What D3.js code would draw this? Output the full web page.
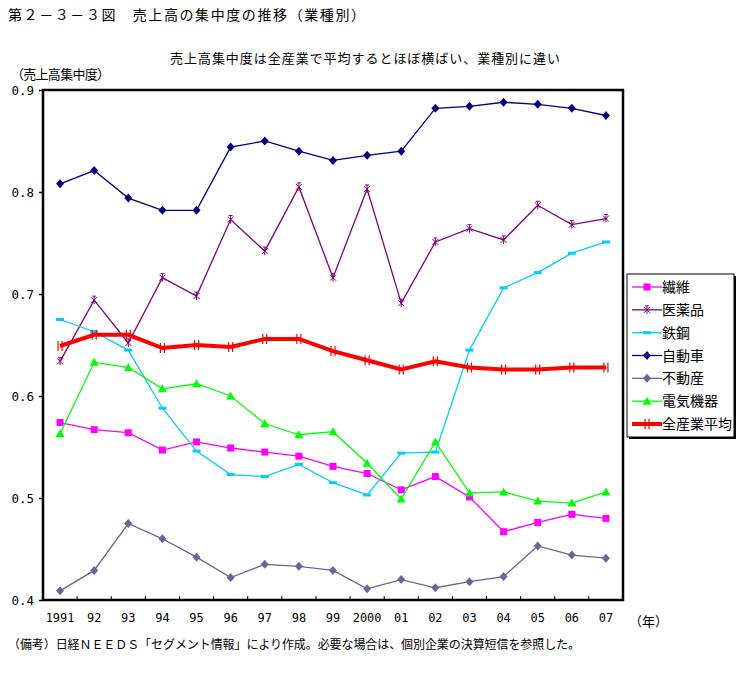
<!DOCTYPE html>
<html>
<head>
<meta charset="utf-8">
<script src="https://cdn.jsdelivr.net/npm/d3@7"></script>
<style>
  body { margin: 0; background: #fff; }
  text { font-family: "Noto Sans CJK JP", "Noto Sans", sans-serif; fill: #000; }
</style>
</head>
<body>
<div id="chart"></div>
<script>
// ===== data =====
const years = ['1991', '92', '93', '94', '95', '96', '97', '98', '99', '2000', '01', '02', '03', '04', '05', '06', '07'];
const yTicks = [0.4, 0.5, 0.6, 0.7, 0.8, 0.9];

const seni     = [0.574, 0.567, 0.564, 0.547, 0.555, 0.549, 0.545, 0.541, 0.531, 0.524, 0.508, 0.521, 0.501, 0.467, 0.476, 0.484, 0.480];
const iyakuhin = [0.634, 0.694, 0.652, 0.716, 0.698, 0.773, 0.742, 0.805, 0.716, 0.803, 0.691, 0.751, 0.764, 0.753, 0.787, 0.768, 0.774];
const tekko    = [0.675, 0.663, 0.645, 0.588, 0.546, 0.523, 0.521, 0.533, 0.515, 0.503, 0.544, 0.545, 0.645, 0.706, 0.721, 0.740, 0.751];
const jidosha  = [0.808, 0.821, 0.794, 0.782, 0.782, 0.844, 0.850, 0.840, 0.831, 0.836, 0.840, 0.882, 0.884, 0.888, 0.886, 0.882, 0.875];
const fudosan  = [0.409, 0.429, 0.475, 0.460, 0.442, 0.422, 0.435, 0.433, 0.429, 0.411, 0.420, 0.412, 0.418, 0.423, 0.453, 0.444, 0.441];
const denki    = [0.563, 0.633, 0.628, 0.607, 0.612, 0.600, 0.573, 0.562, 0.565, 0.534, 0.499, 0.555, 0.505, 0.506, 0.497, 0.495, 0.506];
const zensangyo = [0.649, 0.660, 0.660, 0.647, 0.650, 0.648, 0.656, 0.656, 0.644, 0.635, 0.626, 0.634, 0.628, 0.626, 0.626, 0.628, 0.628];

const series = [
  { name: '繊維', values: seni, color: '#ff00ff', marker: 'square' },
  { name: '医薬品', values: iyakuhin, color: '#800080', marker: 'star' },
  { name: '鉄鋼', values: tekko, color: '#00ccff', marker: 'dash' },
  { name: '自動車', values: jidosha, color: '#000080', marker: 'diamond' },
  { name: '不動産', values: fudosan, color: '#666699', marker: 'diamond' },
  { name: '電気機器', values: denki, color: '#00ff00', marker: 'triangle' },
  { name: '全産業平均', values: zensangyo, color: '#ff0000', marker: 'bar', width: 4 }
];

// ===== layout =====
const W = 745, H = 695;
const plot = { left: 43, top: 90, right: 623, bottom: 600 };

const svg = d3.select('#chart').append('svg')
  .attr('width', W)
  .attr('height', H);

const x = d3.scaleBand()
  .domain(years)
  .range([plot.left, plot.right]);

const y = d3.scaleLinear()
  .domain([0.4, 0.9])
  .range([plot.bottom, plot.top]);

const cx = d => x(d) + x.bandwidth() / 2;

// titles
svg.append('text')
  .attr('x', 8).attr('y', 20)
  .attr('font-size', 14)
  .attr('textLength', 357).attr('lengthAdjust', 'spacing')
  .text('第２－３－３図　売上高の集中度の推移（業種別）');

svg.append('text')
  .attr('x', 170).attr('y', 63)
  .attr('font-size', 13)
  .attr('textLength', 390).attr('lengthAdjust', 'spacing')
  .text('売上高集中度は全産業で平均するとほぼ横ばい、業種別に違い');

svg.append('text')
  .attr('x', 11).attr('y', 79)
  .attr('font-size', 13)
  .attr('textLength', 99).attr('lengthAdjust', 'spacing')
  .text('（売上高集中度）');

svg.append('text')
  .attr('x', 8).attr('y', 649)
  .attr('font-size', 12)
  .attr('textLength', 572).attr('lengthAdjust', 'spacing')
  .text('（備考）日経ＮＥＥＤＳ「セグメント情報」により作成。必要な場合は、個別企業の決算短信を参照した。');

// y axis
const yAxis = d3.axisLeft(y)
  .tickValues(yTicks)
  .tickFormat(d3.format('.1f'))
  .tickSize(4)
  .tickPadding(5);

const gy = svg.append('g')
  .attr('transform', `translate(${plot.left},0)`)
  .call(yAxis);
gy.select('.domain').remove();
gy.selectAll('line').attr('stroke', '#000').attr('stroke-width', 1.5);
gy.selectAll('text')
  .attr('font-size', 12.5)
  .style('font-family', '"DejaVu Sans Mono", monospace');

// x axis: labels under each band, ticks inward on band edges
const xAxis = d3.axisBottom(x)
  .tickSize(0)
  .tickPadding(13);

const gx = svg.append('g')
  .attr('transform', `translate(0,${plot.bottom})`)
  .call(xAxis);
gx.select('.domain').remove();
gx.selectAll('text')
  .attr('font-size', 12.5)
  .style('font-family', '"DejaVu Sans Mono", monospace')
  .attr('textLength', d => d.length * 7.2)
  .attr('lengthAdjust', 'spacingAndGlyphs');

svg.append('g')
  .selectAll('line')
  .data(years.slice(1))
  .join('line')
  .attr('x1', d => x(d)).attr('x2', d => x(d))
  .attr('y1', plot.bottom).attr('y2', plot.bottom - 4)
  .attr('stroke', '#000')
  .attr('stroke-width', 1);

svg.append('text')
  .attr('x', 629).attr('y', 626)
  .attr('font-size', 13)
  .text('（年）');

// lines
const line = d3.line()
  .x((d, i) => cx(years[i]))
  .y(d => y(d));

const marks = svg.append('g');

function drawMarker(g, type, color, px, py) {
  if (type === 'square') {
    g.append('rect')
      .attr('x', px - 3.5).attr('y', py - 3.5)
      .attr('width', 7).attr('height', 7)
      .attr('fill', color);
  } else if (type === 'diamond') {
    g.append('path')
      .attr('d', `M${px},${py - 4.5}L${px + 4},${py}L${px},${py + 4.5}L${px - 4},${py}Z`)
      .attr('fill', color);
  } else if (type === 'triangle') {
    g.append('path')
      .attr('d', `M${px},${py - 4.5}L${px + 4.5},${py + 3.5}L${px - 4.5},${py + 3.5}Z`)
      .attr('fill', color);
  } else if (type === 'dash') {
    g.append('rect')
      .attr('x', px - 4).attr('y', py - 1.5)
      .attr('width', 8).attr('height', 3)
      .attr('fill', color);
  } else if (type === 'star') {
    g.append('path')
      .attr('d', `M${px - 3},${py - 3}L${px + 3},${py + 3}M${px + 3},${py - 3}L${px - 3},${py + 3}M${px},${py - 4}L${px},${py + 4}M${px - 2},${py - 4}L${px + 2},${py - 4}`)
      .attr('stroke', color)
      .attr('stroke-width', 1)
      .attr('fill', 'none');
  } else if (type === 'bar') {
    g.append('path')
      .attr('d', `M${px - 2},${py - 5}L${px - 2},${py + 5}M${px + 2},${py - 5}L${px + 2},${py + 5}`)
      .attr('stroke', color)
      .attr('stroke-width', 1.2);
  }
}

series.forEach(s => {
  const g = marks.append('g');
  g.append('path')
    .datum(s.values)
    .attr('d', line)
    .attr('fill', 'none')
    .attr('stroke', s.color)
    .attr('stroke-width', s.width || 1.3);
  s.values.forEach((v, i) => drawMarker(g, s.marker, s.color, cx(years[i]), y(v)));
});

// plot frame
svg.append('rect')
  .attr('x', plot.left).attr('y', plot.top)
  .attr('width', plot.right - plot.left)
  .attr('height', plot.bottom - plot.top)
  .attr('fill', 'none')
  .attr('stroke', '#000')
  .attr('stroke-width', 2.5);

// legend
const lg = { x: 627, y: 274, w: 107, h: 163 };
svg.append('rect')
  .attr('x', lg.x + 2).attr('y', lg.y + 2)
  .attr('width', lg.w).attr('height', lg.h)
  .attr('fill', '#000');
svg.append('rect')
  .attr('x', lg.x).attr('y', lg.y)
  .attr('width', lg.w).attr('height', lg.h)
  .attr('fill', '#fff')
  .attr('stroke', '#000')
  .attr('stroke-width', 1);

const itemY = d3.scalePoint()
  .domain(series.map(s => s.name))
  .range([lg.y + 13, lg.y + 150]);

series.forEach(s => {
  const iy = itemY(s.name);
  const g = svg.append('g');
  g.append('line')
    .attr('x1', lg.x + 5).attr('x2', lg.x + 35)
    .attr('y1', iy).attr('y2', iy)
    .attr('stroke', s.color)
    .attr('stroke-width', s.width || 1.3);
  drawMarker(g, s.marker, s.color, lg.x + 20, iy);
  g.append('text')
    .attr('x', lg.x + 35).attr('y', iy + 5)
    .attr('font-size', 14)
    .text(s.name);
});
</script>
</body>
</html>
